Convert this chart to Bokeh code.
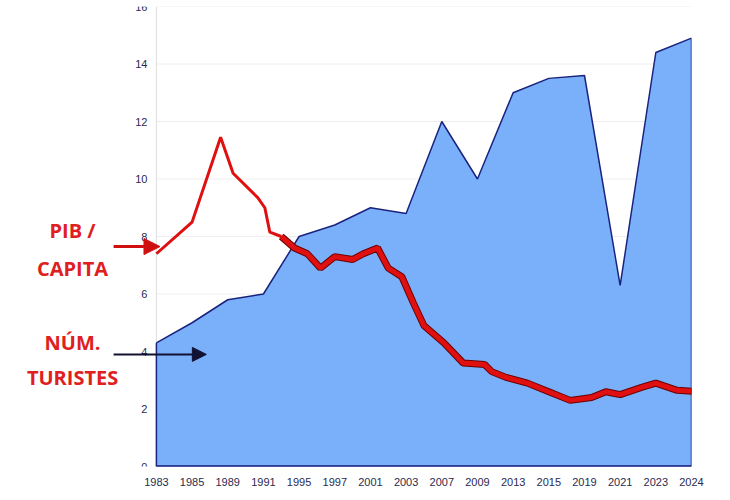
from bokeh.plotting import figure
from bokeh.models import Label, Arrow, NormalHead, FixedTicker, Range1d
from bokeh.embed import file_html
from bokeh.resources import INLINE

years = ["1983","1985","1989","1991","1995","1997","2001","2003","2007","2009","2013","2015","2019","2021","2023","2024"]
turistes = [4.3, 5.0, 5.8, 6.0, 8.0, 8.4, 9.0, 8.8, 12.0, 10.0, 13.0, 13.5, 13.6, 6.3, 14.4, 14.9]
pib_x = [0.0, 1.0, 1.8, 2.15, 2.84, 3.04, 3.18, 3.5, 3.87, 4.23, 4.6, 5.0, 5.5, 5.8, 6.2, 6.5, 6.88, 7.2, 7.5, 8.06, 8.6, 9.2, 9.4, 9.8, 10.4, 11.0, 11.6, 12.2, 12.6, 13.0, 13.6, 14.0, 14.6, 15.2]
pib_y = [7.4, 8.5, 11.45, 10.2, 9.35, 9.0, 8.15, 8.0, 7.6, 7.4, 6.9, 7.3, 7.2, 7.4, 7.6, 6.9, 6.6, 5.7, 4.9, 4.3, 3.6, 3.55, 3.3, 3.1, 2.9, 2.6, 2.3, 2.4, 2.6, 2.5, 2.75, 2.9, 2.65, 2.6]
yticks = list(range(0, 17, 2))

xi = list(range(len(years)))
n = len(years) - 1
p = figure(width=714, height=490, output_backend="svg", toolbar_location=None,
           x_range=Range1d(-4.09, n), y_range=Range1d(0, 16),
           min_border_left=10, min_border_right=23, min_border_top=6, min_border_bottom=24)
p.outline_line_color = None
p.yaxis.visible = False
p.xgrid.grid_line_color = None
p.ygrid.grid_line_color = None

# grid, y axis line and tick labels drawn by hand inside the plot
p.segment(x0=[0]*len(yticks), y0=yticks, x1=[n]*len(yticks), y1=yticks, line_color="#eeeeee")
p.segment(x0=[0], y0=[0], x1=[0], y1=[16], line_color="#dddddd")
p.text(x=[-0.25]*len(yticks), y=yticks, text=[str(t) for t in yticks], text_align="right",
       text_baseline="middle", text_font_size="11px", text_color="#2a2a50")

p.varea(x=xi, y1=0, y2=turistes, fill_color="#7ab0fa")
p.line(x=xi + [n, 0, 0], y=turistes + [0, 0, turistes[0]], line_color="#1a237e", line_width=1.5)
p.segment(x0=[0], y0=[0], x1=[n], y1=[0], line_color="#1a237e", line_width=2.5)

k = 7
p.line(pib_x[:k+1], pib_y[:k+1], line_color="#e01010", line_width=3)
p.line(pib_x[k:], pib_y[k:], line_color="#6a0000", line_width=7)
p.line(pib_x[k:], pib_y[k:], line_color="#e01010", line_width=5)

p.xaxis.ticker = FixedTicker(ticks=xi)
p.xaxis.major_label_overrides = {i: y for i, y in enumerate(years)}
p.xaxis.major_label_text_font_size = "11px"
p.xaxis.major_label_text_color = "#2a2a50"
p.xaxis.major_tick_line_color = None
p.xaxis.minor_tick_line_color = None
p.xaxis.axis_line_color = None

for txt, yv in (("PIB /", 8.2), ("CAPITA", 6.9), ("NÚM.", 4.3), ("TURISTES", 3.1)):
    p.add_layout(Label(x=-2.35, y=yv, text=txt, text_align="center", text_baseline="middle",
                       text_font="Open Sans", text_font_style="bold", text_font_size="20px",
                       text_color="#e02020"))
p.add_layout(Arrow(x_start=-1.2, y_start=7.65, x_end=0.1, y_end=7.65, line_color="#d01010", line_width=3,
                   end=NormalHead(size=16, fill_color="#d01010", line_color="#d01010")))
p.add_layout(Arrow(x_start=-1.2, y_start=3.9, x_end=1.4, y_end=3.9, line_color="#111133", line_width=2,
                   end=NormalHead(size=14, fill_color="#111133", line_color="#111133")))

open("out.html", "w").write(file_html(p, INLINE))
